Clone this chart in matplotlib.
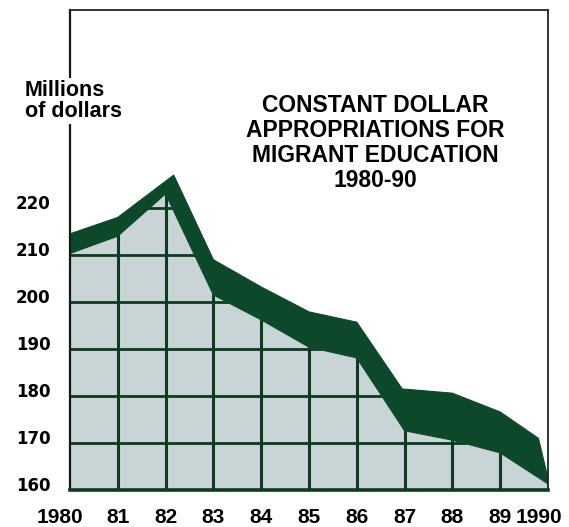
import numpy as np
import matplotlib
matplotlib.use("Agg")
import matplotlib.pyplot as plt
from matplotlib.transforms import ScaledTranslation

plt.rcParams['font.family'] = ['Liberation Sans', 'DejaVu Sans']

# Data
years = [1980, 1981, 1982, 1983, 1984, 1985, 1986, 1987, 1988, 1989, 1990]
appropriations = [210.3, 214.0, 223.0, 201.5, 196.2, 190.4, 188.1, 172.6, 170.6, 167.9, 161.3]
band_years = [1980, 1981, 1982.17, 1983, 1984, 1985, 1986, 1986.95, 1988, 1989, 1989.8, 1990]
band_top = [214.5, 218.0, 227.0, 209.0, 203.2, 197.9, 195.7, 181.5, 180.6, 176.6, 171.0, 162.5]
y_ticks = [160, 170, 180, 190, 200, 210, 220]
x_labels = ['1980', '81', '82', '83', '84', '85', '86', '87', '88', '89', '1990']
title = "CONSTANT DOLLAR\nAPPROPRIATIONS FOR\nMIGRANT EDUCATION\n1980-90"

W, H = 569, 527
fig = plt.figure(figsize=(W / 100, H / 100), dpi=100)
ax = fig.add_axes([70 / W, (H - 490) / H, (548 - 70) / W, (490 - 10) / H])
ax.set_xlim(1980, 1990)
ax.set_ylim(160, 160 + 480 / 4.7)

dark = '#0c4829'
grid_c = '#0f3a22'
fill_c = '#c9d4d6'

fill = ax.fill_between(years, appropriations, 160, color=fill_c, lw=0, zorder=1)
clip_path = fill.get_paths()[0]

# gridlines only inside the filled area
for yv in y_ticks[1:]:
    ln = ax.axhline(yv, color=grid_c, lw=2.0, zorder=2)
    ln.set_clip_path(clip_path, ax.transData)
for xv in years[1:-1]:
    ln = ax.axvline(xv, color=grid_c, lw=2.2, zorder=2)
    ln.set_clip_path(clip_path, ax.transData)

# dark band on top of the fill
bx = list(band_years) + list(years[::-1])
by = list(band_top) + list(appropriations[::-1])
ax.fill(bx, by, color=dark, lw=0.8, ec=dark, zorder=3)

for side in ['top', 'right']:
    ax.spines[side].set_color('#1c2620')
    ax.spines[side].set_linewidth(1.3)
ax.spines['left'].set_color('#111a14')
ax.spines['left'].set_linewidth(1.6)
ax.spines['bottom'].set_color(grid_c)
ax.spines['bottom'].set_linewidth(2.6)
for s in ax.spines.values():
    s.set_zorder(4)

ax.set_yticks(y_ticks)
ax.set_yticklabels([str(v) for v in y_ticks], fontsize=12, fontweight='bold',
                   family=['DejaVu Sans'])
ax.set_xticks(years)
ax.set_xticklabels(x_labels, fontsize=15, fontweight='bold')
ax.tick_params(axis='both', length=0)
ax.tick_params(axis='y', pad=14)
ax.tick_params(axis='x', pad=13)
off = ScaledTranslation(0, 6 / 100, fig.dpi_scale_trans)
for lab in ax.get_yticklabels():
    lab.set_transform(lab.get_transform() + off)
xlabs = ax.get_xticklabels()
xlabs[0].set_transform(xlabs[0].get_transform() + ScaledTranslation(-10 / 100, 0, fig.dpi_scale_trans))
xlabs[-1].set_transform(xlabs[-1].get_transform() + ScaledTranslation(-9 / 100, 0, fig.dpi_scale_trans))

fig.text(25 / W, 1 - 101 / H, "Millions\nof dollars", fontsize=15.5, fontweight='bold',
         ha='left', va='center', linespacing=1.05,
         bbox=dict(facecolor='white', edgecolor='none', pad=1), zorder=10)

fig.text(375 / W, 1 - 143 / H, title, fontsize=16.5, fontweight='bold',
         ha='center', va='center', linespacing=1.1)

fig.savefig('out.png', dpi=100)
